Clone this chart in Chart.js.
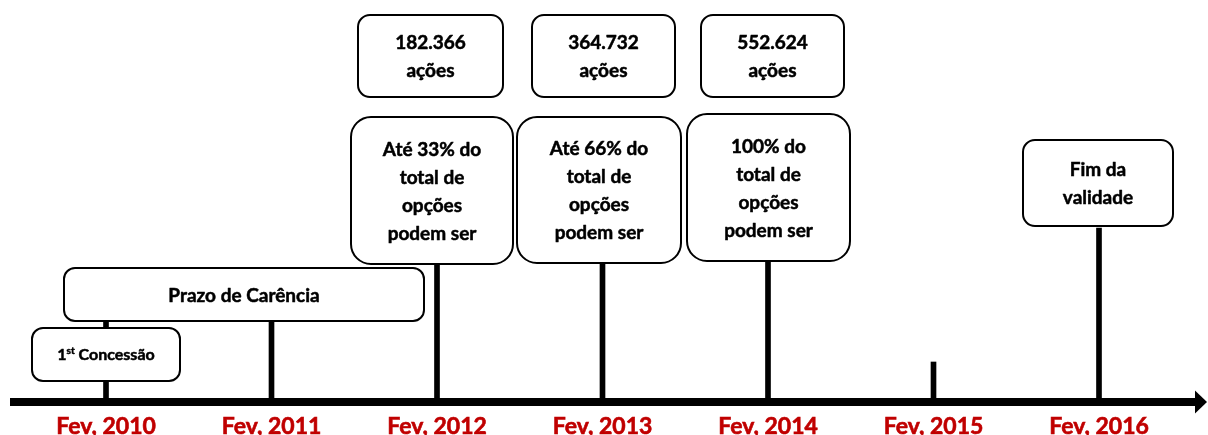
<!DOCTYPE html>
<html>
<head>
<meta charset="utf-8">
<script src="https://cdn.jsdelivr.net/npm/chart.js@4/dist/chart.umd.min.js"></script>
<style>
html, body { margin: 0; padding: 0; background: #ffffff; }
#wrap { width: 1208px; height: 435px; position: relative; }
</style>
</head>
<body>
<div id="wrap"><canvas id="c"></canvas></div>
<script>
// ---- data ----
const years = [2010, 2011, 2012, 2013, 2014, 2015, 2016];
const tickLabels = ['Fev, 2010', 'Fev, 2011', 'Fev, 2012', 'Fev, 2013', 'Fev, 2014', 'Fev, 2015', 'Fev, 2016'];
const stemHeight = [81, 81, 140, 139, 141, 40, 174];
const sharesText = [['182.366', 'ações'], ['364.732', 'ações'], ['552.624', 'ações']];
const vestingText = [
  ['Até 33% do', 'total de', 'opções', 'podem ser'],
  ['Até 66% do', 'total de', 'opções', 'podem ser'],
  ['100% do', 'total de', 'opções', 'podem ser']
];
const grantText = ['1', 'st', ' Concessão'];
const carenciaText = ['Prazo de Carência'];
const endText = ['Fim da', 'validade'];

// ---- layout (not data) ----
const FONT = 'Lato, "Open Sans", sans-serif';
const boxLayout = [
  { year: 2010, dx: 138, w: 360, top: 134, bottom: 81, r: 11, lines: carenciaText },
  { year: 2010, dx: 0, w: 148, top: 74, bottom: 21, r: 11, lines: null, special: 'grant' },
  { year: 2012, dx: -6.5, w: 145, top: 387, bottom: 305, r: 12, lines: sharesText[0] },
  { year: 2013, dx: 1, w: 143, top: 387, bottom: 305, r: 12, lines: sharesText[1] },
  { year: 2014, dx: 4.5, w: 143, top: 387, bottom: 305, r: 12, lines: sharesText[2] },
  { year: 2012, dx: -5, w: 162, top: 285, bottom: 138, r: 20, lines: vestingText[0] },
  { year: 2013, dx: -3.5, w: 164, top: 285, bottom: 139, r: 20, lines: vestingText[1] },
  { year: 2014, dx: 0.5, w: 163, top: 288, bottom: 141, r: 20, lines: vestingText[2] },
  { year: 2016, dx: -1, w: 150, top: 262, bottom: 176, r: 12, lines: endText }
];

function roundRectPath(ctx, x, y, w, h, r) {
  ctx.beginPath();
  ctx.moveTo(x + r, y);
  ctx.lineTo(x + w - r, y);
  ctx.arcTo(x + w, y, x + w, y + r, r);
  ctx.lineTo(x + w, y + h - r);
  ctx.arcTo(x + w, y + h, x + w - r, y + h, r);
  ctx.lineTo(x + r, y + h);
  ctx.arcTo(x, y + h, x, y + h - r, r);
  ctx.lineTo(x, y + r);
  ctx.arcTo(x, y, x + r, y, r);
  ctx.closePath();
}

function boldText(ctx, t, x, y) {
  ctx.fillText(t, x, y);
  ctx.strokeText(t, x, y);
}

const boxPlugin = {
  id: 'timelineBoxes',
  afterDatasetsDraw(chart) {
    const { ctx, scales: { x, y } } = chart;
    ctx.save();
    boxLayout.forEach(b => {
      const cx = x.getPixelForValue(b.year) + b.dx;
      const top = y.getPixelForValue(b.top);
      const bot = y.getPixelForValue(b.bottom);
      const left = cx - b.w / 2;
      roundRectPath(ctx, left, top, b.w, bot - top, b.r);
      ctx.fillStyle = '#ffffff';
      ctx.fill();
      ctx.lineWidth = 2;
      ctx.strokeStyle = '#000000';
      ctx.stroke();
      ctx.fillStyle = '#000000';
      ctx.lineWidth = 0.5;
      ctx.lineJoin = 'round';
      ctx.textBaseline = 'alphabetic';
      const midY = (top + bot) / 2;
      if (b.special === 'grant') {
        const big = 'bold 16px ' + FONT;
        const small = 'bold 10px ' + FONT;
        ctx.font = big;
        const capH = ctx.measureText('H').actualBoundingBoxAscent;
        const w1 = ctx.measureText(grantText[0]).width;
        const w3 = ctx.measureText(grantText[2]).width;
        ctx.font = small;
        const w2 = ctx.measureText(grantText[1]).width;
        const sx = cx - (w1 + w2 + w3) / 2;
        const base = midY + capH / 2;
        ctx.textAlign = 'left';
        ctx.font = big;
        boldText(ctx, grantText[0], sx, base);
        ctx.font = small;
        boldText(ctx, grantText[1], sx + w1, base - 6);
        ctx.font = big;
        boldText(ctx, grantText[2], sx + w1 + w2, base);
      } else {
        ctx.font = 'bold 19px ' + FONT;
        ctx.textAlign = 'center';
        const capH = ctx.measureText('H').actualBoundingBoxAscent;
        const lh = 28;
        const n = b.lines.length;
        b.lines.forEach((t, i) => {
          const c = midY + (i - (n - 1) / 2) * lh;
          boldText(ctx, t, cx, c + capH / 2);
        });
      }
    });
    ctx.restore();
  },
  afterDraw(chart) {
    const { ctx, scales: { x } } = chart;
    const ay = x.top;
    const ax = x.right;
    ctx.save();
    ctx.fillStyle = '#000000';
    ctx.beginPath();
    ctx.moveTo(ax - 1, ay - 11.5);
    ctx.lineTo(ax + 11, ay);
    ctx.lineTo(ax - 1, ay + 11.5);
    ctx.closePath();
    ctx.fill();
    ctx.restore();
  }
};

const stems = years.map((yr, i) => ({ x: yr, y: [0, stemHeight[i]] }));

new Chart(document.getElementById('c'), {
  type: 'bar',
  data: {
    datasets: [{
      data: stems,
      backgroundColor: '#000000',
      borderWidth: 0,
      barThickness: 5
    }]
  },
  options: {
    responsive: true,
    maintainAspectRatio: false,
    animation: false,
    events: [],
    layout: { padding: { left: 14, right: 12, top: 0, bottom: 0 } },
    plugins: { legend: { display: false }, tooltip: { enabled: false } },
    scales: {
      x: {
        type: 'linear',
        min: years[0] - 0.5559,
        max: years[years.length - 1] + 0.5861,
        offset: false,
        grid: { display: false, drawTicks: false, offset: false },
        border: { display: true, color: '#000000', width: 8 },
        afterBuildTicks: s => { s.ticks = years.map(v => ({ value: v })); },
        afterFit: s => { s.height = 33; },
        ticks: {
          autoSkip: false,
          maxRotation: 0,
          padding: 11,
          color: '#C00000',
          textStrokeColor: '#C00000',
          textStrokeWidth: 0.6,
          font: { family: FONT, size: 23, weight: 'bold' },
          callback: (v) => tickLabels[years.indexOf(v)]
        }
      },
      y: {
        display: false,
        min: 0,
        max: 402
      }
    }
  },
  plugins: [boxPlugin]
});
</script>
</body>
</html>
